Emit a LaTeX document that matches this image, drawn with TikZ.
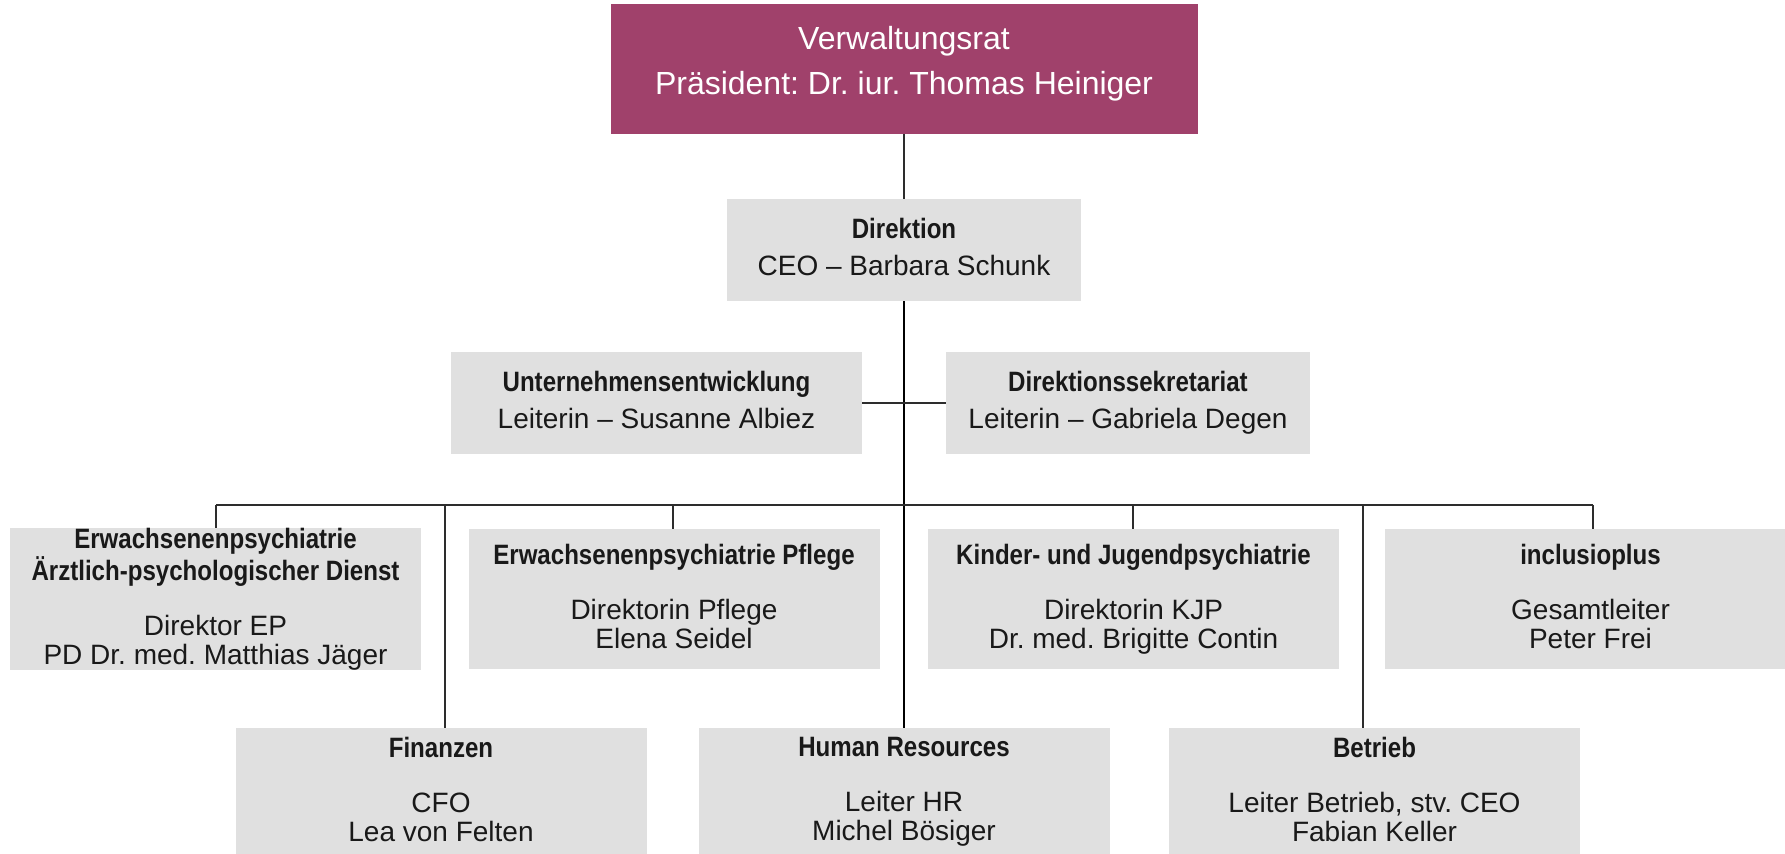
\documentclass[tikz,border=0pt]{standalone}
\usepackage{fontspec}
\setmainfont{Liberation Sans}
\newfontfamily\headfont{Liberation Sans Bold}[FakeStretch=0.86]
\usepackage{tikz}

\definecolor{vrred}{RGB}{160,65,107}
\definecolor{boxgray}{RGB}{224,224,224}
\definecolor{linegray}{RGB}{45,45,45}
\newcommand{\head}[1]{{\headfont #1}}
\frenchspacing

\begin{document}
\begin{tikzpicture}[x=0.5pt,y=-0.5pt,
  top node/.style={fill=vrred,inner sep=0pt,minimum width=293.5pt,minimum height=64.75pt},
  box node/.style={fill=boxgray,inner sep=0pt,align=center,text=black!90,text depth=3pt,
    minimum width=205.5pt,minimum height=70pt,font=\fontsize{14}{14.5}\selectfont},
  small box/.style={box node,minimum height=51pt},
  low box/.style={box node,minimum height=64pt},
  link/.style={draw=linegray,line width=0.75pt},
  trunk/.style={draw=black,line width=1pt}]

  \useasboundingbox (0,0) rectangle (1785,854);
  \clip (0,0) rectangle (1785,854);

  % Verwaltungsrat
  \node[top node] (vr) at (904,69.25) {};
  \node[text=white,align=center,font=\fontsize{16}{22.75}\selectfont] (vrtext) at (904,63.5)
    {Verwaltungsrat\\Präsident: Dr. iur. Thomas Heiniger};

  % Direktion und Stab
  \node[small box,minimum width=177pt] (dir) at (904,250)
    {\head{Direktion}\\[4.3pt]CEO – Barbara Schunk};
  \node[small box] (ue) at (656.5,403)
    {\head{Unternehmensentwicklung}\\[4.3pt]Leiterin – Susanne Albiez};
  \node[small box,minimum width=182pt] (ds) at (1128,403)
    {\head{Direktionssekretariat}\\[4.3pt]Leiterin – Gabriela Degen};

  % erste Reihe
  \node[box node] (ep) at (215.5,599)
    {\head{Erwachsenenpsychiatrie}\\\head{Ärztlich-psychologischer Dienst}\\[13pt]Direktor EP\\PD Dr. med. Matthias Jäger};
  \node[box node] (pf) at (674,599)
    {\head{Erwachsenenpsychiatrie Pflege}\\[13pt]Direktorin Pflege\\Elena Seidel};
  \node[box node] (kjp) at (1133.5,599)
    {\head{Kinder- und Jugendpsychiatrie}\\[13pt]Direktorin KJP\\Dr. med. Brigitte Contin};
  \node[box node] (inc) at (1590.5,599)
    {\head{inclusioplus}\\[13pt]Gesamtleiter\\Peter Frei};

  % zweite Reihe
  \node[low box] (fin) at (441,792)
    {\head{Finanzen}\\[13pt]CFO\\Lea von Felten};
  \node[low box] (hr) at (904,792)
    {\head{Human Resources}\\[13pt]Leiter HR\\Michel Bösiger};
  \node[low box] (bet) at (1374.5,792)
    {\head{Betrieb}\\[13pt]Leiter Betrieb, stv. CEO\\Fabian Keller};

  % Linien
  \coordinate (b1) at (216,505);
  \coordinate (b2) at (445,505);
  \coordinate (b3) at (673,505);
  \coordinate (b5) at (1133,505);
  \coordinate (b6) at (1363,505);
  \coordinate (b7) at (1593,505);

  \draw[link] (vr.south) -- (dir.north);
  \draw[trunk] (dir.south) -- (hr.north);
  \draw[link] (ue.east) -- (ds.west);
  \draw[link] (b1) -- (b7);
  \foreach \b/\n in {b1/ep,b3/pf,b5/kjp,b7/inc,b2/fin,b6/bet}
    \draw[link] (\b) -- (\b |- \n.north);
\end{tikzpicture}
\end{document}
